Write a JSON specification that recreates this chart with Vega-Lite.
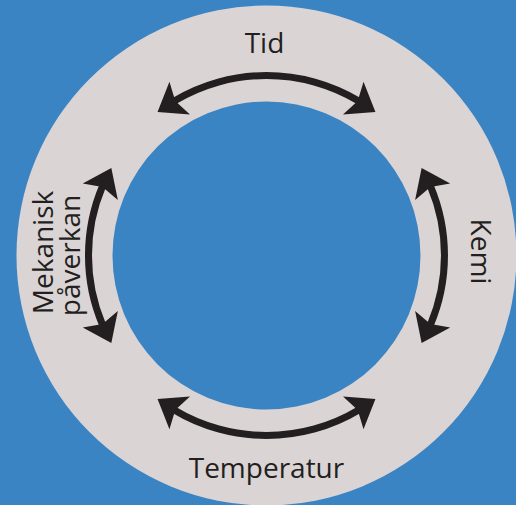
{
  "$schema": "https://vega.github.io/schema/vega-lite/v6.json",
  "width": 516,
  "height": 505,
  "padding": 0,
  "autosize": {"type": "fit", "contains": "padding"},
  "background": "#3B84C4",
  "config": {"view": {"stroke": null}},
  "datasets": {
    "ring": [{"t0": 0, "t1": 360, "r0": 250, "r1": 154}],
    "arcs": [
      {"arrow": "Tid", "t0": -31, "t1": 31, "r0": 183.5, "r1": 176.5},
      {"arrow": "Kemi", "t0": 67, "t1": 113, "r0": 181.5, "r1": 174.5},
      {"arrow": "Temperatur", "t0": 149, "t1": 211, "r0": 183.5, "r1": 176.5},
      {"arrow": "Mekanisk", "t0": 247, "t1": 293, "r0": 181.5, "r1": 174.5}
    ],
    "heads": [
      {"x": 96, "y": 152, "angle": 122},
      {"x": -96, "y": 152, "angle": 238},
      {"x": 96, "y": -152, "angle": 58},
      {"x": -96, "y": -152, "angle": 302},
      {"x": 162, "y": 73.5, "angle": 335},
      {"x": 162, "y": -73.5, "angle": 205},
      {"x": -162, "y": 73.5, "angle": 25},
      {"x": -162, "y": -73.5, "angle": 155}
    ],
    "labels": [
      {"text": "Tid", "x": -2, "y": 203, "angle": 0},
      {"text": "Temperatur", "x": 0, "y": -223, "angle": 0},
      {"text": "Kemi", "x": 205, "y": 4, "angle": 90},
      {"text": "Mekanisk", "x": -214, "y": 3, "angle": 270},
      {"text": "påverkan", "x": -187, "y": 0, "angle": 270}
    ]
  },
  "layer": [
    {
      "data": {"name": "ring"},
      "mark": {"type": "arc", "fill": "#DAD4D5"},
      "encoding": {
        "x": {"datum": 0, "type": "quantitative", "scale": {"domain": [-267, 249], "nice": false, "zero": false}, "axis": null},
        "y": {"datum": 0, "type": "quantitative", "scale": {"domain": [-249, 256], "nice": false, "zero": false}, "axis": null},
        "theta": {"field": "t0", "type": "quantitative", "stack": null, "scale": {"type": "linear", "domain": [0, 360], "range": [0, 6.283185307], "zero": false}},
        "theta2": {"field": "t1"},
        "radius": {"field": "r0", "type": "quantitative", "scale": {"type": "linear", "domain": [0, 250], "range": [0, 250], "zero": true}},
        "radius2": {"field": "r1"}
      }
    },
    {
      "data": {"name": "arcs"},
      "mark": {"type": "arc", "fill": "#231F20"},
      "encoding": {
        "x": {"datum": 0, "type": "quantitative"},
        "y": {"datum": 0, "type": "quantitative"},
        "theta": {"field": "t0", "type": "quantitative", "stack": null},
        "theta2": {"field": "t1"},
        "radius": {"field": "r0", "type": "quantitative"},
        "radius2": {"field": "r1"}
      }
    },
    {
      "data": {"name": "heads"},
      "mark": {"type": "point", "shape": "M0,-0.8L1,0.55L0,0.28L-1,0.55Z", "filled": true, "fill": "#231F20", "stroke": null, "size": 1500, "opacity": 1},
      "encoding": {
        "x": {"field": "x", "type": "quantitative"},
        "y": {"field": "y", "type": "quantitative"},
        "angle": {"field": "angle", "type": "quantitative", "scale": null}
      }
    },
    {
      "data": {"name": "labels"},
      "mark": {"type": "text", "font": "Open Sans", "fontSize": 28, "color": "#231F20", "align": "center", "baseline": "alphabetic"},
      "encoding": {
        "x": {"field": "x", "type": "quantitative"},
        "y": {"field": "y", "type": "quantitative"},
        "angle": {"field": "angle", "type": "quantitative", "scale": null},
        "text": {"field": "text"}
      }
    }
  ]
}
